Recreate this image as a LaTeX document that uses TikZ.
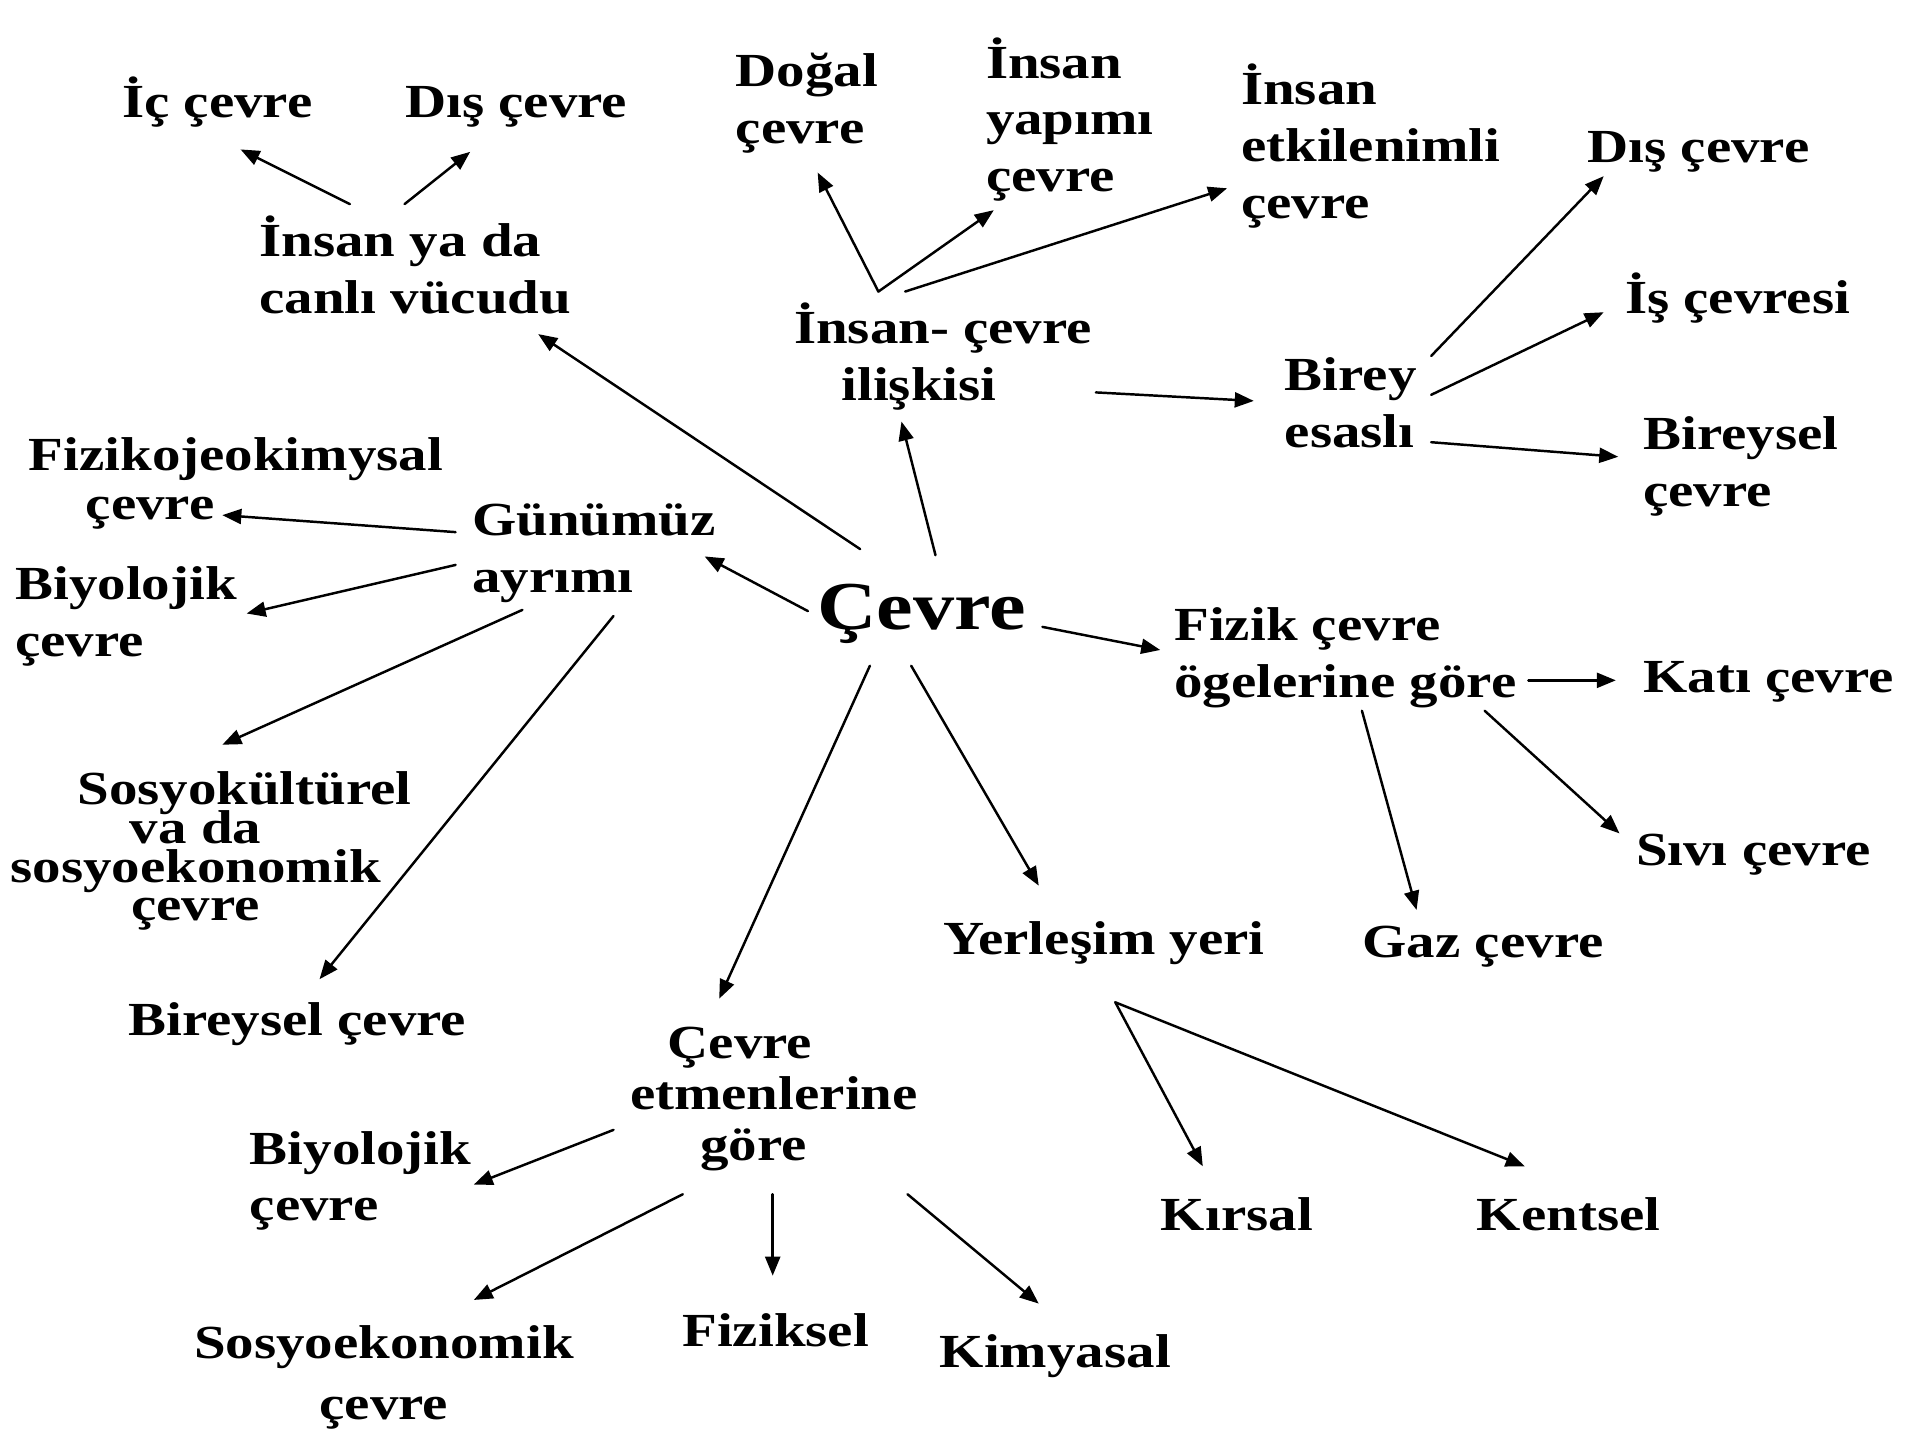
\documentclass[tikz,border=0pt]{standalone}
\usepackage{fontspec}
\setmainfont{Liberation Serif}[FakeStretch=1.2]
\usetikzlibrary{arrows.meta}
\begin{document}
\begin{tikzpicture}[>={Triangle[length=1.9mm,width=1.5mm]},line join=round,line cap=round,
	x=0.01215cm,y=-0.01215cm,font=\bfseries\fontsize{13.5}{16.2}\selectfont,
	txt/.style={inner sep=0pt,align=left,anchor=base west},
	ctxt/.style={inner sep=0pt,align=center,anchor=base},
	arr/.style={->,line width=0.7pt}]
	\useasboundingbox (0,0) rectangle (1568,1185);
	%Merkez
	\node[txt,font=\bfseries\fontsize{19.5}{22}\selectfont] (cevre) at (672,518) {Çevre};
	%İnsan ya da canlı vücudu
	\node[txt] (canli) at (213,258) {İnsan ya da\\canlı vücudu};
	\node[txt] (ic) at (100,97) {İç çevre};
	\node[txt] (dis1) at (333,97) {Dış çevre};
	%İnsan- çevre ilişkisi
	\node[txt] (iliski) at (653,330) {İnsan- çevre\\\hspace*{0.474cm}ilişkisi};
	\node[txt] (dogal) at (605,118) {Doğal\\çevre};
	\node[txt] (yapim) at (811,158) {İnsan\\yapımı\\çevre};
	\node[txt] (etkil) at (1021,180) {İnsan\\etkilenimli\\çevre};
	%Birey esaslı
	\node[txt] (birey) at (1057,368) {Birey\\esaslı};
	\node[txt] (dis2) at (1306,134) {Dış çevre};
	\node[txt] (is) at (1337,258) {İş çevresi};
	\node[txt] (bireysel1) at (1352,417) {Bireysel\\çevre};
	%Günümüz ayrımı
	\node[txt] (gunumuz) at (388,488) {Günümüz\\ayrımı};
	\node[txt,font={\bfseries\fontsize{13.5}{14.2}\selectfont}] (fiziko) at (23,428) {Fizikojeokimysal\\\hspace*{0.571cm}çevre};
	\node[txt] (biyo1) at (12,540) {Biyolojik\\çevre};
	\node[ctxt,font={\bfseries\fontsize{13.5}{11}\selectfont\lineskiplimit=-20pt\relax}] (sosyok) at (161,758) {\hspace*{0.98cm}Sosyokültürel\\va da\\sosyoekonomik\\çevre};
	\node[txt] (bireysel2) at (105,852) {Bireysel çevre};
	%Fizik çevre ögelerine göre
	\node[txt] (fizik) at (966,574) {Fizik çevre\\ögelerine göre};
	\node[txt] (kati) at (1352,570) {Katı çevre};
	\node[txt] (sivi) at (1346,712) {Sıvı çevre};
	\node[txt] (gaz) at (1121,788) {Gaz çevre};
	%Yerleşim yeri
	\node[txt] (yer) at (776,786) {Yerleşim yeri};
	\node[txt] (kirsal) at (955,1013) {Kırsal};
	\node[txt] (kentsel) at (1215,1013) {Kentsel};
	%Çevre etmenlerine göre
	\node[ctxt,font={\bfseries\fontsize{13.5}{14.5}\selectfont}] (etmen) at (637,955) {Çevre\hspace*{0.68cm}\\etmenlerine\\göre\hspace*{0.41cm}};
	\node[txt] (biyo2) at (205,1005) {Biyolojik\\çevre};
	\node[ctxt,font={\bfseries\fontsize{13.5}{17.2}\selectfont}] (sosyoe) at (316,1168) {Sosyoekonomik\\çevre};
	\node[txt] (fiziksel) at (561,1108) {Fiziksel};
	\node[txt] (kimya) at (773,1126) {Kimyasal};
	%Oklar
	\draw[arr] ([shift={(75,-90)}]canli.base west)--([shift={(98,26)}]ic.base west);
	\draw[arr] ([shift={(120,-90)}]canli.base west)--([shift={(54,28)}]dis1.base west);
	\draw[arr] ([shift={(36,-66)}]cevre.base west)--([shift={(230,17)}]canli.base west);
	\draw[arr] ([shift={(70,-90)}]iliski.base west)--([shift={(68,24)}]dogal.base west);
	\draw[arr] ([shift={(70,-90)}]iliski.base west)--([shift={(7,15)}]yapim.base west);
	\draw[arr] ([shift={(92,-90)}]iliski.base west)--([shift={(-11,-25)}]etkil.base west);
	\draw[arr] ([shift={(98,-61)}]cevre.base west)--([shift={(89,17)}]iliski.base west);
	\draw[arr] ([shift={(249,-7)}]iliski.base west)--([shift={(-25,-38)}]birey.base west);
	\draw[arr] ([shift={(121,-75)}]birey.base west)--([shift={(14,11)}]dis2.base west);
	\draw[arr] ([shift={(121,-43)}]birey.base west)--([shift={(-17,-1)}]is.base west);
	\draw[arr] ([shift={(121,-4)}]birey.base west)--([shift={(-20,-41)}]bireysel1.base west);
	\draw[arr] ([shift={(-7,-15)}]cevre.base west)--([shift={(192,-30)}]gunumuz.base west);
	\draw[arr] ([shift={(-13,-50)}]gunumuz.base west)--([shift={(160,-4)}]fiziko.base west);
	\draw[arr] ([shift={(-13,-23)}]gunumuz.base west)--([shift={(191,-35)}]biyo1.base west);
	\draw[arr] ([shift={(42,14)}]gunumuz.base west)--([shift={(22,-145)}]sosyok.base);
	\draw[arr] ([shift={(117,19)}]gunumuz.base west)--([shift={(158,-46)}]bireysel2.base west);
	\draw[arr] ([shift={(186,-2)}]cevre.base west)--([shift={(-11,-39)}]fizik.base west);
	\draw[arr] ([shift={(292,-14)}]fizik.base west)--([shift={(-22,-10)}]kati.base west);
	\draw[arr] ([shift={(256,11)}]fizik.base west)--([shift={(-13,-26)}]sivi.base west);
	\draw[arr] ([shift={(155,11)}]fizik.base west)--([shift={(45,-39)}]gaz.base west);
	\draw[arr] ([shift={(78,30)}]cevre.base west)--([shift={(79,-57)}]yer.base west);
	\draw[arr] ([shift={(44,30)}]cevre.base west)--([shift={(-45,-133)}]etmen.base);
	\draw[arr] ([shift={(142,39)}]yer.base west)--([shift={(35,-53)}]kirsal.base west);
	\draw[arr] ([shift={(142,39)}]yer.base west)--([shift={(40,-53)}]kentsel.base west);
	\draw[arr] ([shift={(-132,-25)}]etmen.base)--([shift={(185,-30)}]biyo2.base west);
	\draw[arr] ([shift={(-75,28)}]etmen.base)--([shift={(74,-98)}]sosyoe.base);
	\draw[arr] ([shift={(-1,28)}]etmen.base)--([shift={(75,-58)}]fiziksel.base west);
	\draw[arr] ([shift={(110,28)}]etmen.base)--([shift={(82,-53)}]kimya.base west);
\end{tikzpicture}
\end{document}
